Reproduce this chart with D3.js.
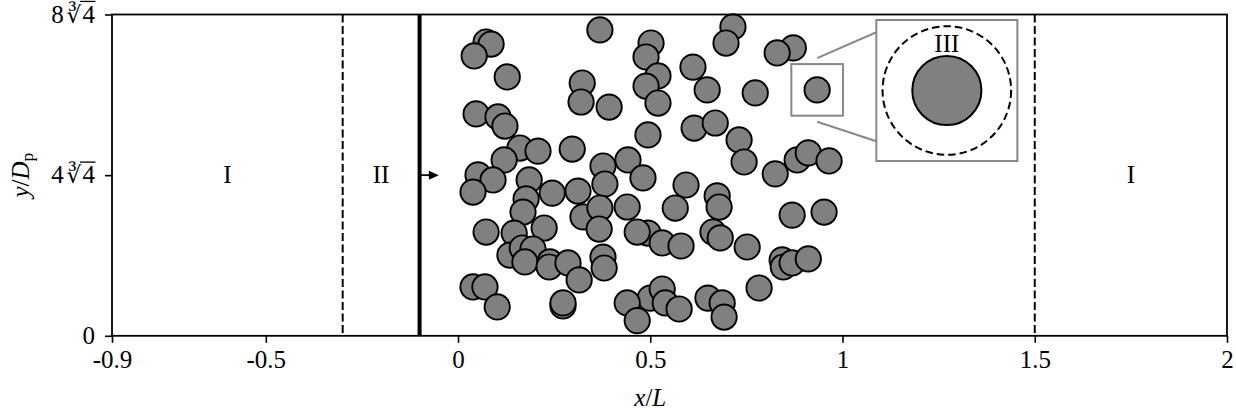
<!DOCTYPE html>
<html>
<head>
<meta charset="utf-8">
<script src="https://cdn.jsdelivr.net/npm/d3@7"></script>
<style>
  html, body { margin: 0; padding: 0; background: #fff; }
  svg { display: block; }
</style>
</head>
<body>
<svg id="chart" width="1236" height="413" font-family="Liberation Serif"></svg>
<script>
// ---------------- data ----------------
const cbrt4 = Math.cbrt(4);
const xDomain = [-0.9, 2];
const yDomain = [0, 8 * cbrt4];
const xTicks = [-0.9, -0.5, 0, 0.5, 1, 1.5, 2];
const xTickLabels = ["-0.9", "-0.5", "0", "0.5", "1", "1.5", "2"];
const yTicks = [0, 4 * cbrt4, 8 * cbrt4];
const yTickCoef = ["0", "4", "8"];          // coefficient of ∛4 ("0" = plain zero)

// particle centres (x/L, y/Dp)
const particleX = [0.073,0.086,0.042,0.128,0.369,0.323,0.320,0.393,0.502,0.489,0.520,0.489,0.520,
  0.047,0.104,0.122,0.161,0.208,0.297,0.120,0.377,0.442,0.494,0.715,0.697,0.872,0.830,0.611,0.648,
  0.773,0.934,0.614,0.669,0.731,0.744,0.882,0.911,0.965,0.825,0.481,0.593,0.674,0.679,0.565,0.869,
  0.952,0.494,0.531,0.580,0.663,0.682,0.752,0.843,0.846,0.869,0.911,0.783,0.500,0.531,0.539,0.575,
  0.650,0.687,0.692,0.052,0.091,0.039,0.185,0.245,0.312,0.382,0.177,0.169,0.325,0.369,0.367,0.440,
  0.073,0.146,0.224,0.466,0.135,0.167,0.195,0.174,0.239,0.237,0.286,0.315,0.377,0.380,0.039,0.070,
  0.102,0.273,0.273,0.440,0.466];
const particleY = [11.61,11.53,11.06,10.23,12.09,9.99,9.24,9.04,11.57,11.02,10.27,9.87,9.20,
  8.77,8.65,8.29,7.42,7.30,7.38,6.95,6.71,6.95,7.94,12.21,11.57,11.38,11.18,10.62,9.72,
  9.60,9.72,8.21,8.41,7.74,6.87,6.95,7.23,6.91,6.40,6.24,5.96,5.53,5.09,5.05,4.77,
  4.89,4.06,3.67,3.55,4.10,3.87,3.51,3.00,2.72,2.88,3.04,1.89,1.49,1.85,1.30,1.06,
  1.49,1.30,0.74,6.36,6.16,5.68,6.16,5.64,5.72,6.00,5.41,4.89,4.70,5.05,4.22,5.09,
  4.10,4.06,4.26,4.10,3.19,3.47,3.43,2.92,2.92,2.72,2.88,2.21,3.11,2.68,1.93,1.93,
  1.14,1.18,1.30,1.30,0.60];
const particleDiameter = 1;                 // in units of Dp

// zones
const zoneLabels = ["I", "II", "I"];
const zoneLabelX = [-0.6, -0.2, 1.75];
const zoneBoundaryX = [-0.3, 1.5];          // dashed lines
const inletX = -0.1;                        // thick line
const arrowX = [-0.097, -0.05];
const arrowY = 4 * cbrt4;

// inset (zoom of one particle)
const insetParticle = 30;                   // index into particle arrays
const insetHalf = 1.02;                     // half-size of zoom window, Dp
const insetOuterRadius = 0.93;              // dashed circle radius, Dp
const insetLabel = "III";

// ---------------- layout ----------------
const W = 1236, H = 413;
const margin = { left: 112, right: 9, top: 14.5, bottom: 77.2 };
const iw = W - margin.left - margin.right;
const ih = H - margin.top - margin.bottom;

const svg = d3.select("#chart");
const g = svg.append("g").attr("transform", `translate(${margin.left},${margin.top})`);

const x = d3.scaleLinear().domain(xDomain).range([0, iw]);
const y = d3.scaleLinear().domain(yDomain).range([ih, 0]);
const pxPerDp = y(0) - y(1);
const FS = 25;
const FONT = "Liberation Serif";

// zone lines
g.selectAll("line.zone").data(zoneBoundaryX).enter().append("line")
  .attr("x1", d => x(d)).attr("x2", d => x(d)).attr("y1", 0).attr("y2", ih)
  .attr("stroke", "#000").attr("stroke-width", 2).attr("stroke-dasharray", "8,3.5");
g.append("line")
  .attr("x1", x(inletX)).attr("x2", x(inletX)).attr("y1", 0).attr("y2", ih)
  .attr("stroke", "#000").attr("stroke-width", 4);

// arrow
g.append("line")
  .attr("x1", x(arrowX[0])).attr("x2", x(arrowX[1]) - 8).attr("y1", y(arrowY)).attr("y2", y(arrowY))
  .attr("stroke", "#000").attr("stroke-width", 1.8);
g.append("path")
  .attr("d", () => {
    const xe = x(arrowX[1]), ye = y(arrowY);
    return `M${xe},${ye} L${xe - 10},${ye - 4.5} L${xe - 10},${ye + 4.5} Z`;
  })
  .attr("fill", "#000");

// zone labels
g.selectAll("text.zl").data(zoneLabels).enter().append("text")
  .attr("x", (d, i) => x(zoneLabelX[i])).attr("y", y(arrowY))
  .attr("dy", "0.33em").attr("text-anchor", "middle")
  .attr("font-size", FS).text(d => d);

// particles
const particles = particleX.map((px, i) => ({ x: px, y: particleY[i] }));
g.selectAll("circle.p").data(particles).enter().append("circle")
  .attr("cx", d => x(d.x)).attr("cy", d => y(d.y))
  .attr("r", pxPerDp * particleDiameter / 2)
  .attr("fill", "#808080").attr("stroke", "#000").attr("stroke-width", 1.9);

// inset source square
const ip = particles[insetParticle];
const sq = {
  x0: x(ip.x) - insetHalf * pxPerDp, x1: x(ip.x) + insetHalf * pxPerDp,
  y0: y(ip.y + insetHalf), y1: y(ip.y - insetHalf)
};
g.append("rect").attr("x", sq.x0).attr("y", sq.y0)
  .attr("width", sq.x1 - sq.x0).attr("height", sq.y1 - sq.y0)
  .attr("fill", "none").attr("stroke", "#888").attr("stroke-width", 2);

// inset axes (fractions of the main axes)
const insetFrac = { left: 0.6855, top: 0.0171, size: 0.4389 };
const ibox = { x0: insetFrac.left * iw, y0: insetFrac.top * ih, s: insetFrac.size * ih };
const xi = d3.scaleLinear().domain([-insetHalf, insetHalf]).range([ibox.x0, ibox.x0 + ibox.s]);
const yi = d3.scaleLinear().domain([-insetHalf, insetHalf]).range([ibox.y0 + ibox.s, ibox.y0]);

// connector lines
g.append("line")
  .attr("x1", x(ip.x)).attr("y1", sq.y0 - 6).attr("x2", ibox.x0).attr("y2", ibox.y0 + 0.087 * ibox.s)
  .attr("stroke", "#888").attr("stroke-width", 2);
g.append("line")
  .attr("x1", x(ip.x)).attr("y1", sq.y1 + 6).attr("x2", ibox.x0).attr("y2", ibox.y0 + 0.86 * ibox.s)
  .attr("stroke", "#888").attr("stroke-width", 2);

const ig = g.append("g");
ig.append("rect").attr("x", ibox.x0).attr("y", ibox.y0).attr("width", ibox.s).attr("height", ibox.s)
  .attr("fill", "#fff").attr("stroke", "#888").attr("stroke-width", 2);
ig.append("circle").attr("cx", xi(0)).attr("cy", yi(0))
  .attr("r", xi(insetOuterRadius) - xi(0))
  .attr("fill", "none").attr("stroke", "#000").attr("stroke-width", 2).attr("stroke-dasharray", "7.5,4");
ig.append("circle").attr("cx", xi(0)).attr("cy", yi(0))
  .attr("r", xi(particleDiameter / 2) - xi(0))
  .attr("fill", "#808080").attr("stroke", "#000").attr("stroke-width", 2);
ig.append("text").attr("x", xi(0)).attr("y", yi(0.68))
  .attr("dy", "0.33em").attr("text-anchor", "middle").attr("font-size", FS).text(insetLabel);

// frame
g.append("rect").attr("x", 0).attr("y", 0).attr("width", iw).attr("height", ih)
  .attr("fill", "none").attr("stroke", "#000").attr("stroke-width", 1.8);

// x axis
const xAxis = g.append("g").attr("transform", `translate(0,${ih})`)
  .call(d3.axisBottom(x).tickValues(xTicks).tickFormat((d, i) => xTickLabels[i]).tickSize(7).tickPadding(7));
xAxis.select(".domain").remove();
xAxis.attr("font-family", FONT).attr("font-size", FS);
xAxis.selectAll(".tick line").attr("stroke-width", 1.6);
xAxis.selectAll(".tick text").attr("font-size", FS).attr("font-family", FONT);

// y axis
const yAxis = g.append("g")
  .call(d3.axisLeft(y).tickValues(yTicks).tickFormat("").tickSize(7));
yAxis.select(".domain").remove();
yAxis.selectAll(".tick line").attr("stroke-width", 1.6);

// glyph measurement helper
const ctx = document.createElement("canvas").getContext("2d");
function glyphAscent(ch, family, size) {
  ctx.font = `${size}px "${family}"`;
  return ctx.measureText(ch).actualBoundingBoxAscent;
}

const RAD_FONT = "DejaVu Serif", RAD_FS = FS * 0.92;
yTicks.forEach((v, i) => {
  const base = y(v) + 0.33 * FS;
  const t = g.append("text").attr("x", -17).attr("y", base)
    .attr("text-anchor", "end").attr("font-size", FS).attr("font-family", FONT);
  if (yTickCoef[i] === "0") { t.text("0"); return; }
  t.append("tspan").text(yTickCoef[i]);
  t.append("tspan").attr("font-family", RAD_FONT).attr("font-size", RAD_FS).attr("dx", 3).text("\u221B");
  t.append("tspan").attr("dx", 1).text("4");
  const n = t.node();
  const rEnd = n.getEndPositionOfChar(1);
  const e = n.getEndPositionOfChar(2);
  const asc = glyphAscent("\u221B", RAD_FONT, RAD_FS);
  const top = base - asc + 0.7;
  g.append("line").attr("x1", rEnd.x - 1.5).attr("x2", e.x + 0.5).attr("y1", top).attr("y2", top)
    .attr("stroke", "#000").attr("stroke-width", 1.3);
});

// axis labels
const xl = svg.append("text").attr("x", margin.left + x(0.5)).attr("y", 406)
  .attr("text-anchor", "middle").attr("font-size", FS).attr("font-family", FONT);
xl.append("tspan").attr("font-style", "italic").text("x");
xl.append("tspan").text("/");
xl.append("tspan").attr("font-style", "italic").text("L");

const yl = svg.append("text")
  .attr("transform", `translate(29,${margin.top + ih / 2}) rotate(-90)`)
  .attr("text-anchor", "middle").attr("font-size", FS).attr("font-family", FONT);
yl.append("tspan").attr("font-style", "italic").text("y");
yl.append("tspan").text("/");
yl.append("tspan").attr("font-style", "italic").text("D");
yl.append("tspan").attr("font-size", FS * 0.7).attr("dy", 4).text("p");
</script>
</body>
</html>
